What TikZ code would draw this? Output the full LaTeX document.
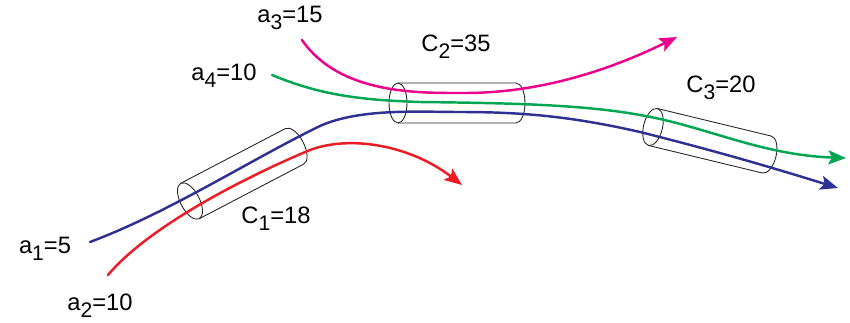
\documentclass[tikz,border=0pt]{standalone}
\usepackage{fontspec}
\setmainfont{Liberation Sans}
\usetikzlibrary{arrows.meta}
\definecolor{cblue}{HTML}{2E3192}
\definecolor{cred}{HTML}{ED1C24}
\definecolor{cpink}{HTML}{EC008C}
\definecolor{cgreen}{HTML}{00A651}
\tikzset{
  flow/.style={line width=1.4pt, line cap=round},
  tip/.style={-{Stealth[length=10pt,width=8pt,inset=2pt]}},
  cylline/.style={draw=black!85, line width=0.5pt},
  lab/.style={font=\fontsize{13.5}{16}\selectfont, inner sep=0pt}
}
\newcommand{\sbs}[1]{\raisebox{-4.2pt}{\fontsize{12}{14}\selectfont #1}}
\begin{document}
\begin{tikzpicture}[x=0.02cm, y=-0.02cm]
\useasboundingbox (0,0) rectangle (850,322);
% cylinders: cx cy angle L R(cm) rx(cm) R(px)
\newcommand{\cyl}[7]{%
  \begin{scope}[shift={(#1,#2)}, rotate=#3]
    \draw[cylline] (0,0) ellipse [x radius=#6cm, y radius=#5cm];
    \draw[cylline] (0,-#7) -- (#4,-#7) arc[start angle=90, end angle=-90, x radius=#6cm, y radius=#5cm] -- (0,#7);
  \end{scope}}
\cyl{190}{201}{27.6}{118}{0.40}{0.19}{20}
\cyl{398}{103}{0}{118}{0.40}{0.18}{20}
\cyl{653}{127}{-13.6}{117}{0.38}{0.19}{19}
% endpoints
\coordinate (b0) at (90,242);
\coordinate (b1) at (320,126);
\coordinate (b2) at (460,112);
\coordinate (b3) at (640,132);
\coordinate (b4) at (838,188);
\coordinate (r0) at (108,275);
\coordinate (r1) at (310,150);
\coordinate (r2) at (462,185);
\coordinate (p0) at (302,40);
\coordinate (p1) at (465,93);
\coordinate (p2) at (677,37);
\coordinate (g0) at (272,75);
\coordinate (g1) at (420,102);
\coordinate (g2) at (640,115);
\coordinate (g3) at (846,158);
% flows
\draw[flow, cblue, tip] (b0) .. controls (170,212) and (250,160) .. (b1)
  .. controls (360,108) and (420,112) .. (b2)
  .. controls (520,112) and (570,116) .. (b3)
  .. controls (720,152) and (780,170) .. (b4);
\draw[flow, cred, tip] (r0) .. controls (150,225) and (250,175) .. (r1)
  .. controls (350,135) and (410,145) .. (r2);
\draw[flow, cpink, tip] (p0) .. controls (340,95) and (420,93) .. (p1)
  .. controls (540,93) and (610,70) .. (p2);
\draw[flow, cgreen, tip] (g0) .. controls (320,95) and (360,100) .. (g1)
  .. controls (500,103) and (580,104) .. (g2)
  .. controls (705,126) and (760,155) .. (g3);
% labels
\node[lab] (la3) at (290,18) {a\sbs{3}=15};
\node[lab] (lc2) at (456,47) {C\sbs{2}=35};
\node[lab] (la4) at (224,76) {a\sbs{4}=10};
\node[lab] (lc3) at (721,88) {C\sbs{3}=20};
\node[lab] (lc1) at (276,219) {C\sbs{1}=18};
\node[lab] (la1) at (45,249) {a\sbs{1}=5};
\node[lab] (la2) at (100,306) {a\sbs{2}=10};
\end{tikzpicture}
\end{document}
